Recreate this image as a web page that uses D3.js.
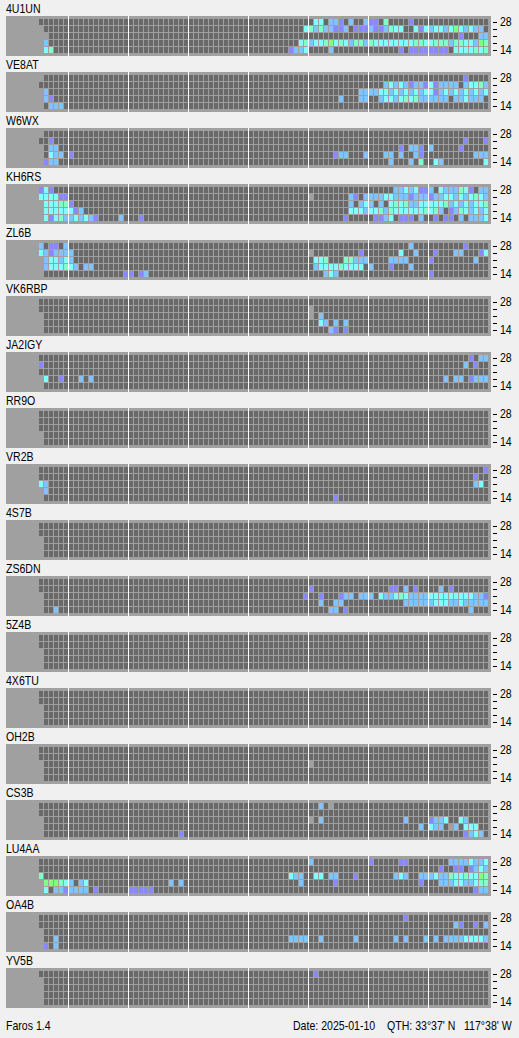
<!DOCTYPE html>
<html><head><meta charset="utf-8">
<script src="https://cdn.jsdelivr.net/npm/d3@7"></script>
<style>
html,body{margin:0;padding:0;background:#f0f0f0;overflow:hidden}
svg{display:block}
text{font-family:"Liberation Sans",Arial,sans-serif;font-size:12px;fill:#000}
</style></head><body>
<svg id="c" width="519" height="1038"></svg>
<script>
const P=1,B=2,C=3,A=4,G=5;
const stationNames=["4U1UN","VE8AT","W6WX","KH6RS","ZL6B","VK6RBP","JA2IGY","RR9O","VR2B","4S7B","ZS6DN","5Z4B","4X6TU","OH2B","CS3B","LU4AA","OA4B","YV5B"];
const bandTicks=["28","","","","14"];
const hourLineCols=[6,18,30,42,54,66,78];
const levelColors=["#8888ff","#80c4ff","#80ffff","#80ffc8","#80ff80"];
// first column present on each band row
const firstCols={"4U1UN":[0,1,2,1,1],"VE8AT":[1,0,1,1,1],"W6WX":[1,0,1,1,1],"KH6RS":[0,0,1,1,1],"ZL6B":[0,0,1,1,1],"VK6RBP":[0,0,1,1,1],"JA2IGY":[0,0,0,1,1],"RR9O":[0,0,0,1,1],"VR2B":[0,0,0,1,1],"4S7B":[0,0,1,1,1],"ZS6DN":[0,0,1,1,1],"5Z4B":[0,0,1,1,1],"4X6TU":[0,0,1,1,1],"OH2B":[0,0,1,1,1],"CS3B":[0,0,1,1,1],"LU4AA":[0,0,0,1,1],"OA4B":[0,0,1,1,1],"YV5B":[0,1,1,1,1]};
// cells with no sample: [row,col]
const noSample={"KH6RS":[[1,54]],"ZL6B":[[1,54]],"VK6RBP":[[1,54],[2,54]],"OH2B":[[2,54]],"CS3B":[[0,58],[2,54],[3,82]]};
// detected cells per band row: [col,level]
const s4U1UN=[
[[55,C],[56,C],[58,B],[59,B],[60,P],[62,B],[65,B],[66,P],[67,P],[69,A],[74,P]],
[[53,C],[54,A],[55,B],[56,A],[57,B],[58,B],[59,P],[60,P],[61,B],[63,P],[64,P],[65,P],[66,B],[67,P],[68,P],[69,B],[70,A],[71,C],[72,C],[75,C],[76,P],[77,C],[78,B],[79,C],[80,C],[81,B],[82,C],[83,G],[84,C],[85,B],[86,C],[87,B],[88,B]],
[[84,P],[88,B],[89,B]],
[[1,B],[52,C],[53,A],[54,B],[55,C],[56,C],[57,A],[58,G],[59,C],[60,A],[61,C],[62,B],[63,A],[64,A],[65,B],[66,A],[67,C],[68,C],[69,C],[70,C],[71,C],[72,C],[73,C],[74,C],[75,A],[76,A],[77,C],[78,C],[79,A],[80,A],[81,A],[82,B],[83,A],[84,A],[85,C],[86,C],[87,B],[88,G],[89,A]],
[[1,C],[2,A],[50,P],[51,B],[52,B],[53,C],[58,B],[72,P],[74,P],[75,P],[76,P],[77,P],[78,P],[79,P],[80,P],[81,P],[83,C],[84,C],[85,C],[86,C],[87,A],[88,C],[89,A]]];
const sVE8AT=[
[[85,P]],
[[69,B],[70,C],[71,B],[72,C],[73,B],[74,P],[75,B],[76,B],[77,P],[78,C],[79,P],[80,B],[81,B],[82,B],[83,B],[85,B],[86,C],[87,C],[88,A],[89,B]],
[[1,B],[64,B],[65,B],[66,B],[67,B],[68,C],[69,C],[70,B],[71,C],[72,B],[73,C],[74,B],[75,C],[76,B],[77,C],[78,C],[79,P],[80,B],[81,C],[82,B],[83,C],[84,B],[85,C],[86,B],[87,C],[88,B],[89,C]],
[[1,B],[2,P],[60,B],[64,B],[65,B],[68,B],[69,C],[70,C],[71,B],[72,C],[73,A],[74,C],[75,A],[76,B],[77,B],[78,B],[79,B],[80,B],[81,B],[83,B],[84,B],[85,C],[86,B],[87,B],[88,B]],
[[2,B],[3,B],[4,B]]];
const sW6WX=[
[],
[[2,P],[85,P],[89,P]],
[[2,B],[3,B],[72,P],[74,B],[75,B],[76,P],[78,B],[84,P]],
[[2,C],[3,B],[4,B],[6,P],[59,P],[60,B],[61,B],[65,B],[69,B],[70,B],[72,B],[75,B],[76,P],[87,B],[88,B],[89,B]],
[[1,P],[2,B],[3,B],[70,B],[74,B],[76,A],[79,C],[80,B],[89,C]]];
const sKH6RS=[
[[0,P],[1,C],[2,P],[71,B],[72,B],[73,C],[74,B],[75,C],[76,P],[77,P],[78,B],[80,C],[81,B],[82,B],[83,B],[84,A],[85,C],[86,P],[88,B],[89,B]],
[[0,C],[1,C],[2,C],[3,C],[4,P],[5,P],[62,B],[63,P],[65,B],[66,B],[67,B],[68,B],[69,C],[70,C],[71,B],[72,B],[73,B],[74,P],[75,B],[76,B],[77,B],[78,P],[79,B],[80,B],[81,C],[82,C],[83,B],[84,C],[85,B],[86,C],[87,A],[88,C],[89,B]],
[[1,C],[2,C],[3,C],[4,A],[5,A],[6,P],[62,B],[64,B],[65,C],[66,B],[68,B],[70,C],[71,A],[72,C],[73,A],[74,B],[75,B],[76,C],[77,C],[78,C],[79,C],[80,C],[81,A],[82,B],[83,C],[84,B],[85,C],[86,B],[87,C],[88,C],[89,A]],
[[1,C],[2,C],[3,C],[4,C],[5,C],[6,C],[7,P],[8,B],[62,C],[63,C],[64,C],[65,B],[66,C],[67,C],[68,A],[69,B],[70,A],[71,C],[72,C],[73,C],[74,C],[75,C],[76,C],[77,A],[78,C],[79,A],[80,B],[82,P],[83,B],[84,A],[85,C],[86,B],[87,C],[88,B],[89,C]],
[[1,C],[2,P],[3,C],[4,A],[5,B],[6,B],[7,C],[8,B],[9,C],[10,B],[11,P],[16,B],[20,P],[61,P],[67,P],[68,P],[69,B],[70,C],[72,P],[73,P],[74,P],[76,B],[79,P],[81,P],[82,P],[84,B],[86,B],[87,B],[88,B],[89,C]]];
const sZL6B=[
[[0,B],[2,P],[3,P],[5,B],[74,B],[85,P]],
[[0,C],[1,B],[2,P],[3,B],[4,B],[5,B],[6,B],[64,P],[72,C],[75,B],[79,P],[83,B],[84,B],[88,P],[89,C]],
[[1,B],[2,C],[3,C],[4,B],[5,C],[6,B],[55,C],[56,C],[57,A],[61,A],[62,A],[63,B],[64,B],[65,B],[70,B],[71,B],[72,B],[73,B],[78,P],[87,B]],
[[1,B],[2,C],[3,C],[4,C],[5,A],[6,C],[7,B],[9,B],[10,B],[55,B],[56,C],[57,C],[58,C],[59,C],[60,A],[61,C],[62,C],[63,C],[64,C],[66,B],[70,P],[74,B]],
[[17,P],[18,P],[20,P],[21,B],[57,B],[58,C],[59,B],[78,P]]];
const sVK6RBP=[[],[],
[[56,B]],
[[56,C],[57,B],[59,B],[61,B]],
[[58,B],[59,P],[61,P]]];
const sJA2IGY=[
[[86,P],[88,B],[89,B]],
[[0,P],[85,B],[87,P]],
[],
[[1,C],[4,P],[8,B],[10,B],[81,B],[83,B],[84,B],[86,P],[87,B],[88,B],[89,B]],
[]];
const sRR9O=[[],[],[],[],[]];
const sVR2B=[
[[89,P]],
[[87,P]],
[[0,C],[1,B],[87,B],[88,C]],
[[1,B]],
[[59,P]]];
const s4S7B=[[],[],[],[],[]];
const sZS6DN=[
[],
[[54,P],[70,P],[71,P],[73,B],[75,P],[80,B],[82,P]],
[[53,P],[56,P],[60,P],[61,B],[62,B],[64,B],[65,B],[66,B],[68,C],[69,B],[70,B],[71,C],[72,A],[73,C],[74,B],[75,B],[76,B],[77,B],[78,C],[79,C],[80,C],[81,C],[82,C],[83,C],[84,C],[85,C],[86,C],[87,B],[88,B],[89,P]],
[[56,B],[59,B],[60,B],[73,B],[74,B],[75,B],[76,B],[77,B],[78,B],[79,C],[80,C],[81,C],[82,B],[83,B],[84,C],[85,B],[86,B],[87,B],[88,B],[89,B]],
[[3,B],[58,B],[59,B],[61,P],[86,B]]];
const s5Z4B=[[],[],[],[],[]];
const s4X6TU=[[],[],[],[],[]];
const sOH2B=[[],[],[],[],[]];
const sCS3B=[
[[56,B]],
[],
[[56,B],[73,B],[78,P],[79,B],[80,B],[81,C],[84,C],[85,B]],
[[76,B],[78,C],[79,B],[80,B],[83,B],[85,C],[86,C],[87,C]],
[[28,P],[85,P],[86,B],[87,C],[88,B]]];
const sLU4AA=[
[[54,B],[66,P],[72,P],[73,P],[82,B],[83,B],[84,B],[85,B],[86,C],[87,B],[88,B],[89,C]],
[[80,P],[83,P],[84,P],[86,P],[87,B],[88,C],[89,B]],
[[0,A],[50,C],[51,B],[52,B],[55,C],[56,C],[58,B],[59,B],[63,P],[71,B],[72,C],[73,B],[76,B],[77,B],[78,B],[79,C],[80,B],[81,B],[82,A],[83,C],[84,C],[85,A],[86,C],[87,C],[88,G],[89,A]],
[[1,G],[2,G],[3,G],[4,A],[5,C],[6,B],[8,B],[9,C],[26,B],[28,B],[52,B],[59,P],[76,P],[80,B],[81,B],[82,B],[83,C],[84,C],[85,B],[86,B],[87,C],[88,A],[89,A]],
[[1,C],[3,B],[4,B],[5,P],[6,B],[7,B],[8,B],[9,B],[11,P],[18,P],[19,P],[20,P],[21,P],[22,P],[87,P],[88,B],[89,B]]];
const sOA4B=[
[[73,P]],
[[83,B],[84,P],[87,P],[89,B]],
[],
[[3,B],[50,B],[51,B],[52,B],[53,B],[56,B],[63,B],[71,B],[73,B],[77,B],[79,B],[81,B],[82,B],[83,B],[84,B],[85,C],[86,C],[87,C],[88,C],[89,B]],
[[1,P],[3,B]]];
const sYV5B=[[[55,P]],[],[],[],[]];
const stationRows=[s4U1UN,sVE8AT,sW6WX,sKH6RS,sZL6B,sVK6RBP,sJA2IGY,sRR9O,sVR2B,s4S7B,sZS6DN,s5Z4B,s4X6TU,sOH2B,sCS3B,sLU4AA,sOA4B,sYV5B];
const footerLeft="Faros 1.4";
const footerDate="Date: 2025-01-10";
const footerQth="QTH: 33°37' N";
const footerLon="117°38' W";
const squeeze=0.88;

const svg=d3.select("#c").attr("shape-rendering","crispEdges");
const xCol=d3.scaleLinear().domain([0,90]).range([39,489]);
const yRow=d3.scaleBand().domain(d3.range(5)).range([19,54]);
const yStation=d3.scaleBand().domain(stationNames).range([16,16+56*18]);
const color=d3.scaleOrdinal().domain([1,2,3,4,5]).range(levelColors);
const axisScale=d3.scalePoint().domain(d3.range(5)).range([22,50]);
const label=(sel,x,y,t)=>sel.append("text").attr("transform",`translate(${x},${y}) scale(${squeeze},1)`).text(t);

const g=svg.selectAll("g.station").data(stationNames).join("g").attr("class","station")
  .attr("transform",d=>`translate(0,${yStation(d)-16})`);
g.each(function(name,i){
  const sel=d3.select(this);
  label(sel,6,13,name);
  sel.append("rect").attr("x",6).attr("y",16).attr("width",485).attr("height",40).attr("fill","#a0a0a0");
  const rows=stationRows[i];
  const firsts=firstCols[name];
  const gaps=new Set((noSample[name]||[]).map(d=>d[0]+":"+d[1]));
  const cells=[];
  d3.range(5).forEach(r=>{
    const lv=new Map(rows[r]);
    d3.range(firsts[r],90).forEach(c=>{
      if(!gaps.has(r+":"+c)) cells.push({r,c,l:lv.get(c)||0});
    });
  });
  sel.selectAll("rect.cell").data(cells).join("rect").attr("class","cell")
    .attr("x",d=>xCol(d.c)).attr("y",d=>yRow(d.r))
    .attr("width",4).attr("height",yRow.bandwidth()-1)
    .attr("fill",d=>d.l?color(d.l):"#696969");
  sel.selectAll("rect.hour").data(hourLineCols).join("rect").attr("class","hour")
    .attr("x",d=>xCol(d)-1).attr("y",16).attr("width",1).attr("height",40).attr("fill","#ffffff");
  const ax=sel.append("g").attr("transform","translate(493,0)")
    .call(d3.axisRight(axisScale).tickSize(4).tickPadding(3).tickFormat(d=>bandTicks[d]));
  ax.select(".domain").remove();
  ax.selectAll("line").attr("stroke","#000");
  ax.selectAll("text").attr("font-family",null).attr("font-size",null)
    .attr("x",7/squeeze).attr("transform",`scale(${squeeze},1)`);
});
label(svg,6,1030,footerLeft);
label(svg,293,1030,footerDate);
label(svg,387,1030,footerQth);
label(svg,464,1030,footerLon);
</script></body></html>
